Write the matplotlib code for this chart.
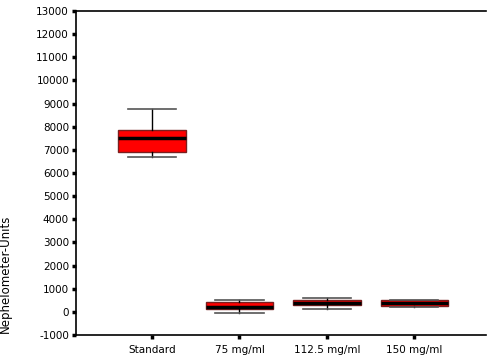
import matplotlib
matplotlib.use("Agg")
import matplotlib.pyplot as plt

plt.rcParams['font.family'] = ['DejaVu Sans']
plt.rcParams['axes.unicode_minus'] = False

groups = ['Standard', '75 mg/ml', '112.5 mg/ml', '150 mg/ml']
# whisker low, q1, median, q3, whisker high
whislo = [6680, -40, 110, 210]
q1 = [6900, 110, 280, 240]
med = [7510, 200, 380, 400]
q3 = [7860, 410, 500, 520]
whishi = [8760, 520, 600, 530]

stats = []
for i in range(len(groups)):
    stats.append(dict(label=groups[i], whislo=whislo[i], q1=q1[i], med=med[i],
                      q3=q3[i], whishi=whishi[i], fliers=[]))

fig = plt.figure(figsize=(4.87, 3.56), dpi=100)
ax = fig.add_axes([0.156, 0.059, 0.842, 0.910])

ax.bxp(stats, positions=[1, 2, 3, 4], widths=0.77, patch_artist=True,
       boxprops=dict(facecolor='#ff0000', edgecolor='#7a1f1f', linewidth=1),
       medianprops=dict(color='black', linewidth=2.5),
       whiskerprops=dict(color='black', linewidth=1),
       capprops=dict(color='#555555', linewidth=1.2),
       capwidths=0.55)

ax.set_xlim(0.13, 4.82)
ax.set_ylim(-1000, 13000)
ax.set_yticks(range(-1000, 13001, 1000))
ax.set_xticks([1, 2, 3, 4])
ax.set_xticklabels(groups)
ax.spines['right'].set_visible(False)
for s in ['left', 'bottom', 'top']:
    ax.spines[s].set_linewidth(1.2)
ax.tick_params(axis='y', length=3, width=2.5, labelsize=7.5, pad=2)
ax.tick_params(axis='x', length=3, width=2.5, labelsize=7.5, pad=4)
ax.set_ylabel('Nephelometer-Units', fontsize=8.5)
ax.yaxis.set_label_coords(-0.156, 0.19)

fig.savefig('out.png', dpi=100)
